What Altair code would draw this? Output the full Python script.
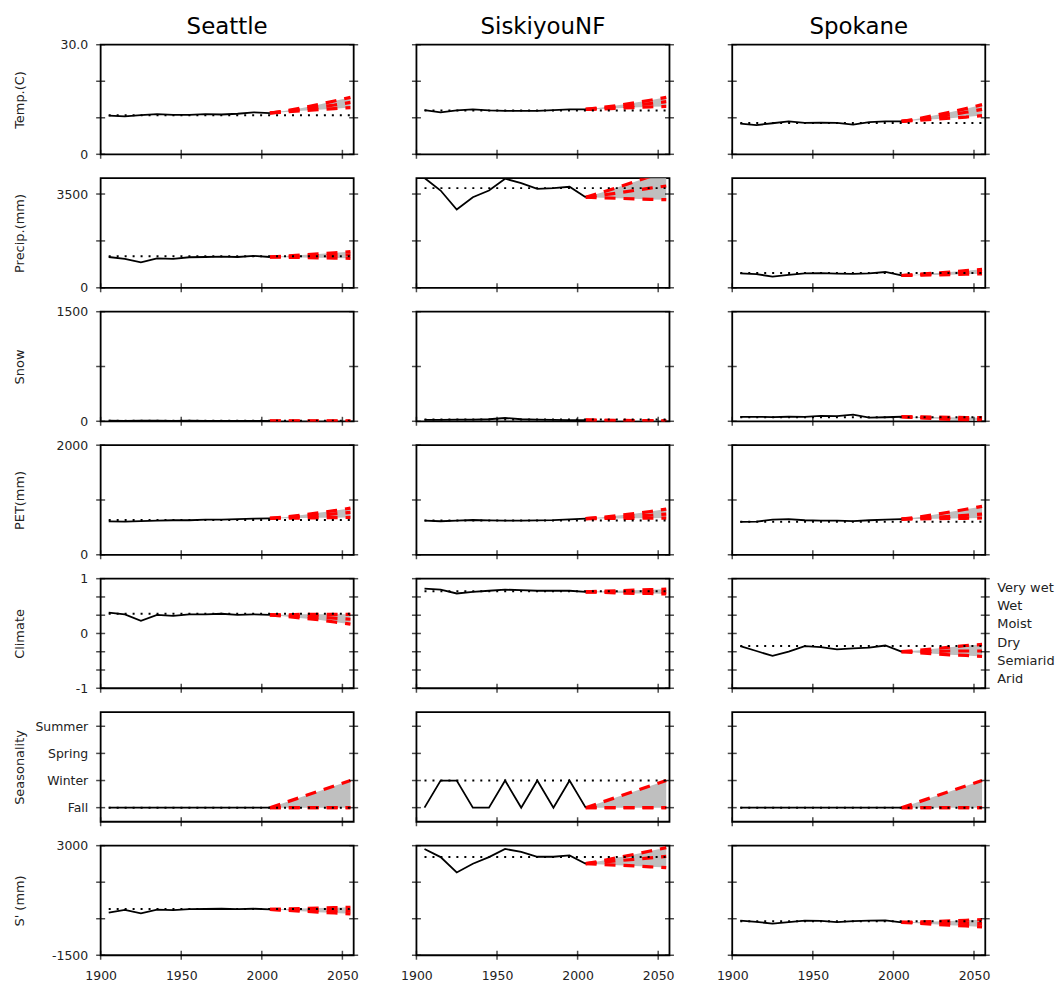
import altair as alt
import pandas as pd

FONT = "DejaVu Sans"

SITES = ["Seattle", "SiskiyouNF", "Spokane"]
VARIABLES = ["Temp.(C)", "Precip.(mm)", "Snow", "PET(mm)", "Climate", "Seasonality", "S' (mm)"]

HIST_YEARS = [1905, 1915, 1925, 1935, 1945, 1955, 1965, 1975, 1985, 1995, 2005]
FUT_YEARS = [2005, 2015, 2025, 2035, 2045, 2055]
BASE_YEARS = [1905, 2055]

# ---- Temperature (C): [Seattle, SiskiyouNF, Spokane]
TEMP_HIST = [
    [10.6, 10.4, 10.7, 11.0, 10.8, 10.8, 11.0, 10.9, 11.1, 11.5, 11.3],
    [12.1, 11.5, 12.0, 12.3, 12.0, 11.9, 11.9, 11.9, 12.1, 12.3, 12.3],
    [8.4, 8.0, 8.5, 9.0, 8.6, 8.7, 8.6, 8.1, 8.8, 9.0, 9.0],
]
TEMP_BASE = [10.7, 12.0, 8.55]
TEMP_LOW = [[11.3, 11.6, 11.9, 12.2, 12.5, 12.8], [12.3, 12.4, 12.6, 12.8, 13.0, 13.1], [9.0, 9.3, 9.6, 9.9, 10.2, 10.6]]
TEMP_MID = [[11.3, 11.8, 12.3, 12.9, 13.5, 14.2], [12.3, 12.6, 13.0, 13.4, 13.9, 14.4], [9.0, 9.5, 10.1, 10.8, 11.5, 12.3]]
TEMP_HIGH = [[11.3, 11.9, 12.7, 13.6, 14.6, 15.6], [12.3, 12.8, 13.4, 14.1, 14.8, 15.6], [9.0, 9.7, 10.6, 11.5, 12.5, 13.6]]

# ---- Precipitation (mm)
PRECIP_HIST = [
    [1150, 1080, 950, 1100, 1080, 1140, 1150, 1160, 1150, 1190, 1150],
    [4100, 3630, 2920, 3380, 3630, 4070, 3910, 3690, 3720, 3770, 3380],
    [540, 510, 420, 480, 540, 550, 530, 520, 540, 590, 460],
]
PRECIP_BASE = [1180, 3720, 555]
PRECIP_LOW = [[1150, 1140, 1130, 1120, 1110, 1100], [3380, 3360, 3340, 3320, 3300, 3290], [460, 470, 480, 490, 505, 520]]
PRECIP_MID = [[1150, 1165, 1180, 1195, 1210, 1230], [3380, 3460, 3540, 3630, 3720, 3800], [460, 485, 515, 545, 575, 605]]
PRECIP_HIGH = [[1150, 1185, 1225, 1265, 1305, 1350], [3380, 3560, 3750, 3950, 4150, 4350], [460, 500, 545, 590, 640, 690]]

# ---- Snow (mm)
SNOW_HIST = [
    [8, 6, 10, 8, 6, 8, 6, 6, 5, 5, 4],
    [20, 20, 22, 22, 28, 45, 28, 22, 18, 15, 15],
    [60, 60, 58, 62, 60, 75, 70, 90, 50, 55, 62],
]
SNOW_BASE = [7, 23, 55]
SNOW_LOW = [[4, 3, 2, 1, 1, 0], [15, 10, 6, 4, 2, 0], [62, 50, 38, 25, 12, 0]]
SNOW_MID = [[4, 3, 3, 2, 2, 1], [15, 12, 9, 7, 5, 3], [62, 55, 48, 40, 32, 25]]
SNOW_HIGH = [[4, 4, 3, 3, 3, 2], [15, 14, 12, 10, 8, 6], [62, 60, 57, 54, 52, 50]]

# ---- PET (mm)
PET_HIST = [
    [610, 605, 615, 625, 630, 630, 640, 640, 650, 660, 665],
    [622, 612, 625, 635, 628, 625, 625, 628, 632, 645, 660],
    [600, 605, 640, 650, 630, 625, 625, 615, 630, 640, 650],
]
PET_BASE = [633, 625, 604]
PET_LOW = [[665, 668, 671, 675, 678, 682], [660, 662, 664, 666, 668, 670], [650, 654, 658, 662, 666, 671]]
PET_MID = [[665, 680, 700, 722, 746, 773], [660, 672, 687, 704, 722, 743], [650, 665, 682, 700, 720, 743]]
PET_HIGH = [[665, 690, 725, 765, 805, 851], [660, 685, 715, 750, 790, 834], [650, 685, 730, 780, 830, 883]]

# ---- Climate index
CLIM_HIST = [
    [0.38, 0.35, 0.23, 0.34, 0.32, 0.35, 0.35, 0.36, 0.34, 0.35, 0.34],
    [0.82, 0.80, 0.73, 0.76, 0.78, 0.80, 0.79, 0.78, 0.78, 0.78, 0.76],
    [-0.23, -0.32, -0.41, -0.33, -0.23, -0.25, -0.29, -0.27, -0.26, -0.22, -0.33],
]
CLIM_BASE = [0.36, 0.77, -0.23]
CLIM_LOW = [[0.34, 0.31, 0.28, 0.25, 0.21, 0.17], [0.76, 0.75, 0.74, 0.73, 0.73, 0.72], [-0.33, -0.35, -0.37, -0.39, -0.40, -0.42]]
CLIM_MID = [[0.34, 0.33, 0.31, 0.30, 0.28, 0.26], [0.76, 0.76, 0.76, 0.76, 0.76, 0.76], [-0.33, -0.33, -0.33, -0.32, -0.32, -0.32]]
CLIM_HIGH = [[0.34, 0.34, 0.35, 0.35, 0.35, 0.35], [0.76, 0.77, 0.78, 0.79, 0.80, 0.81], [-0.33, -0.31, -0.28, -0.25, -0.22, -0.20]]

# ---- Seasonality (0=Fall, 1=Winter, 2=Spring, 3=Summer)
SEAS_HIST = [
    [0, 0, 0, 0, 0, 0, 0, 0, 0, 0, 0],
    [0, 1, 1, 0, 0, 1, 0, 1, 0, 1, 0],
    [0, 0, 0, 0, 0, 0, 0, 0, 0, 0, 0],
]
SEAS_BASE = [0, 1, 0]
SEAS_LOW = [[0, 0, 0, 0, 0, 0], [0, 0, 0, 0, 0, 0], [0, 0, 0, 0, 0, 0]]
SEAS_MID = [[0, 0, 0, 0, 0, 0], [0, 0, 0, 0, 0, 0], [0, 0, 0, 0, 0, 0]]
SEAS_HIGH = [[0, 0.2, 0.4, 0.6, 0.8, 1.0], [0, 0.2, 0.4, 0.6, 0.8, 1.0], [0, 0.2, 0.4, 0.6, 0.8, 1.0]]

# ---- S' (mm)
SP_HIST = [
    [250, 360, 220, 370, 350, 390, 400, 410, 390, 410, 380],
    [2865, 2530, 1900, 2260, 2530, 2865, 2745, 2545, 2545, 2600, 2260],
    [-80, -130, -200, -140, -80, -90, -136, -100, -80, -67, -148],
]
SP_BASE = [400, 2530, -107]
SP_LOW = [[380, 345, 310, 270, 235, 200], [2260, 2230, 2200, 2170, 2130, 2100], [-148, -185, -225, -265, -300, -336]]
SP_MID = [[380, 370, 360, 350, 340, 330], [2260, 2320, 2380, 2440, 2500, 2560], [-148, -158, -168, -180, -190, -200]]
SP_HIGH = [[380, 400, 420, 440, 455, 470], [2260, 2380, 2510, 2640, 2780, 2920], [-148, -130, -110, -90, -65, -40]]

# ---- axes
X_DOMAIN = [1900, 2057]
X_TICKS = [1900, 1950, 2000, 2050]
Y_DOMAINS = [[0, 30], [0, 4090], [0, 1500], [0, 2000], [-1, 1], [-0.52, 3.52], [-1500, 3000]]
Y_TICKS = [
    [0, 10, 20, 30],
    [0, 1750, 3500],
    [0, 750, 1500],
    [0, 1000, 2000],
    [-1, -2 / 3, -1 / 3, 0, 1 / 3, 2 / 3, 1],
    [0, 1, 2, 3],
    [-1500, 0, 1500, 3000],
]
Y_LABEL_VALUES = [[0, 30], [0, 3500], [0, 1500], [0, 2000], [-1, 0, 1], [0, 1, 2, 3], [-1500, 3000]]
Y_LABEL_TEXTS = [
    ["0", "30.0"], ["0", "3500"], ["0", "1500"], ["0", "2000"],
    ["-1", "0", "1"], ["Fall", "Winter", "Spring", "Summer"], ["-1500", "3000"],
]
CLIMATE_CLASSES = ["Very wet", "Wet", "Moist", "Dry", "Semiarid", "Arid"]
CLIMATE_CLASS_POS = [5 / 6, 0.5, 1 / 6, -1 / 6, -0.5, -5 / 6]

HIST = [TEMP_HIST, PRECIP_HIST, SNOW_HIST, PET_HIST, CLIM_HIST, SEAS_HIST, SP_HIST]
BASE = [TEMP_BASE, PRECIP_BASE, SNOW_BASE, PET_BASE, CLIM_BASE, SEAS_BASE, SP_BASE]
LOW = [TEMP_LOW, PRECIP_LOW, SNOW_LOW, PET_LOW, CLIM_LOW, SEAS_LOW, SP_LOW]
MID = [TEMP_MID, PRECIP_MID, SNOW_MID, PET_MID, CLIM_MID, SEAS_MID, SP_MID]
HIGH = [TEMP_HIGH, PRECIP_HIGH, SNOW_HIGH, PET_HIGH, CLIM_HIGH, SEAS_HIGH, SP_HIGH]

W, H = 254, 110
TXT = "#222222"


def label_expr(vals, texts):
    parts = [f"abs(datum.value - ({v})) < 1e-6 ? '{t}'" for v, t in zip(vals, texts)]
    return " : ".join(parts) + " : ''"


def make_cell(r, c):
    xs = alt.Scale(domain=X_DOMAIN, nice=False, zero=False)
    ys = alt.Scale(domain=Y_DOMAINS[r], nice=False, zero=False)
    if c == 0:
        yax = alt.Axis(
            values=Y_LABEL_VALUES[r], labelExpr=label_expr(Y_LABEL_VALUES[r], Y_LABEL_TEXTS[r]),
            ticks=False, domain=False, grid=False, labelPadding=13, labelOverlap=False,
            labelFontSize=12.5, labelColor=TXT, labelFont=FONT,
            title=VARIABLES[r], titleX=-81, titleY=H / 2, titleAngle=-90,
            titleAlign="center", titleBaseline="middle", titleFontSize=13,
            titleFontWeight="normal", titleColor=TXT, titleFont=FONT,
        )
    else:
        yax = None
    if r == len(VARIABLES) - 1:
        xax = alt.Axis(
            values=X_TICKS, format="d", ticks=False, domain=False, grid=False,
            labelPadding=14, labelFlush=False, labelOverlap=False,
            labelFontSize=12.5, labelColor=TXT, labelFont=FONT, title=None,
        )
    else:
        xax = None

    def X(f):
        return alt.X(f, type="quantitative", scale=xs, axis=xax)

    def Y(f):
        return alt.Y(f, type="quantitative", scale=ys, axis=yax)

    hist = pd.DataFrame({"year": HIST_YEARS, "val": HIST[r][c]})
    fut = pd.DataFrame({"year": FUT_YEARS, "low": LOW[r][c], "mid": MID[r][c], "high": HIGH[r][c]})
    base = pd.DataFrame({"year": BASE_YEARS, "val": [BASE[r][c]] * len(BASE_YEARS)})
    yt = pd.DataFrame({"v": Y_TICKS[r]})
    xt = pd.DataFrame({"v": X_TICKS})

    band = alt.Chart(fut).mark_area(color="#bfbfbf", clip=True).encode(
        x=X("year"), y=Y("low"), y2=alt.Y2("high"))
    reds = alt.Chart(fut).transform_fold(["low", "mid", "high"], as_=["scen", "val"]).mark_line(
        color="#ff0000", strokeWidth=3.2, strokeDash=[11, 8], clip=True).encode(
        x=X("year"), y=Y("val"), detail="scen:N")
    histl = alt.Chart(hist).mark_line(color="black", strokeWidth=1.8, clip=True).encode(
        x=X("year"), y=Y("val"))
    basel = alt.Chart(base).mark_line(color="black", strokeWidth=2, strokeDash=[2, 6], clip=True).encode(
        x=X("year"), y=Y("val"))
    lt = alt.Chart(yt).mark_tick(color="black", size=9, thickness=1.5, orient="horizontal").encode(
        x=alt.value(0), y=Y("v"))
    rt = alt.Chart(yt).mark_tick(color="black", size=9, thickness=1.5, orient="horizontal").encode(
        x=alt.value(W), y=Y("v"))
    bt = alt.Chart(xt).mark_tick(color="black", size=9, thickness=1.5, orient="vertical").encode(
        x=X("v"), y=alt.value(H))

    layers = [band, reds, histl, basel, lt, rt, bt]
    if VARIABLES[r] == "Climate" and c == len(SITES) - 1:
        cls = pd.DataFrame({"label": CLIMATE_CLASSES, "pos": CLIMATE_CLASS_POS})
        txt = alt.Chart(cls).mark_text(align="left", baseline="middle", fontSize=13,
                                        font=FONT, color=TXT).encode(
            x=alt.value(W + 12), y=Y("pos"), text="label:N")
        layers.append(txt)
    if r == 0:
        ttl = alt.Chart(pd.DataFrame({"site": [SITES[c]]})).mark_text(
            align="center", baseline="alphabetic", fontSize=23, font=FONT, color="black").encode(
            x=alt.value(W / 2), y=alt.value(-11), text="site:N")
        layers.append(ttl)

    return alt.layer(*layers).properties(width=W, height=H)


cells = [make_cell(r, c) for r in range(len(VARIABLES)) for c in range(len(SITES))]

chart = alt.concat(*cells, columns=3, spacing={"row": 24, "column": 63}, bounds="flush").properties(
    padding={"left": 5, "top": 5, "right": 0, "bottom": 0}
).configure(font=FONT).configure_view(stroke="black", strokeWidth=1.8)

chart.save("out.html", embed_options={"renderer": "svg", "actions": False})
